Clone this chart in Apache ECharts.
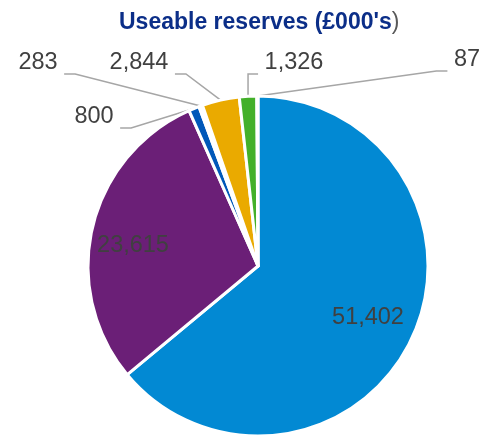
<!DOCTYPE html>
<html>
<head>
<meta charset="utf-8">
<script src="https://cdn.jsdelivr.net/npm/echarts@6/dist/echarts.min.js"></script>
<style>html,body{margin:0;padding:0;background:#fff;}#c{width:482px;height:436px;}</style>
</head>
<body>
<div id="c"></div>
<script>
const categories = ['A', 'B', 'C', 'D', 'E', 'F', 'G'];
const values = [51402, 23615, 800, 283, 2844, 1326, 87];
const colors = ['#0289D3', '#6B1F77', '#0058B9', '#FFFFFF', '#EAAA00', '#43B02A', '#FFFFFF'];
const insideLabels = [true, true, false, false, false, false, false];
// label anchor points (layout): inside labels = text centre, outside = text bottom centre
const labelPos = [[368, 318], [133, 246], [94, 128], [38, 74], [139, 74], [294, 74], [467, 71]];

const chart = echarts.init(document.getElementById('c'), null, {renderer: 'canvas'});
const fmt = v => v.toLocaleString('en-GB');
chart.setOption({
  animation: false,
  title: {
    text: "{a|Useable reserves (£000's}{b|)}",
    left: 114,
    top: 6,
    textStyle: {
      rich: {
        a: {fontFamily: 'Liberation Sans, Arial', fontWeight: 'bold', fontSize: 23, color: '#0B2E88'},
        b: {fontFamily: 'Liberation Sans, Arial', fontWeight: 'normal', fontSize: 23, color: '#595959'}
      }
    }
  },
  series: [{
    type: 'pie',
    center: [258, 266],
    radius: 170,
    startAngle: 90,
    clockwise: true,
    avoidLabelOverlap: false,
    itemStyle: {borderColor: '#fff', borderWidth: 3},
    label: {
      fontFamily: 'Liberation Sans, Arial',
      fontSize: 23.5,
      lineHeight: 22,
      color: '#404040',
      formatter: p => insideLabels[p.dataIndex] ? fmt(p.value) : ' ' + fmt(p.value) + ' \n '
    },
    labelLine: {show: true, length: 10, length2: 11, lineStyle: {color: '#A6A6A6', width: 1.5}},
    labelLayout: function (p) {
      const pos = labelPos[p.dataIndex];
      return {x: pos[0], y: pos[1], align: 'center', verticalAlign: 'middle'};
    },
    data: values.map((v, i) => ({
      name: categories[i],
      value: v,
      itemStyle: {color: colors[i]},
      label: {position: insideLabels[i] ? 'inside' : 'outside'},
      labelLine: {show: !insideLabels[i]}
    }))
  }]
});
</script>
</body>
</html>
